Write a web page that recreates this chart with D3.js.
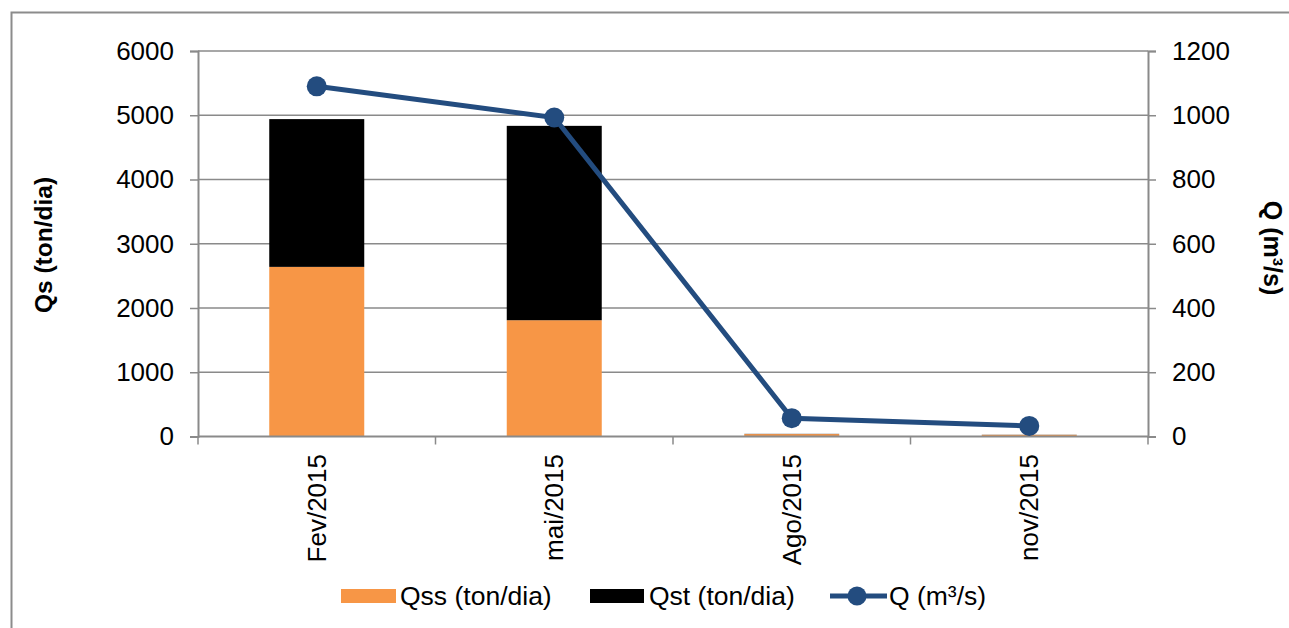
<!DOCTYPE html>
<html>
<head>
<meta charset="utf-8">
<script src="https://cdn.jsdelivr.net/npm/d3@7"></script>
<style>
  body { margin: 0; background: #fff; }
  svg { font-family: "Liberation Sans", Arial, sans-serif; }
</style>
</head>
<body>
<div id="chart-area"></div>
<script>
let width = 1289,
    height = 628;

// data
let months = ["Fev/2015", "mai/2015", "Ago/2015", "nov/2015"];
let qss = [2640, 1810, 38, 26];   // ton/dia
let qst = [2300, 3025, 3, 2];     // ton/dia
let q = [1090, 993, 57, 33];      // m3/s
let leftTicks = [0, 1000, 2000, 3000, 4000, 5000, 6000];
let rightTicks = [0, 200, 400, 600, 800, 1000, 1200];

let orange = "#f79646", navy = "#234c7f", gridColor = "#8a8a8a";

let plot = {left: 198, right: 1148, top: 51, bottom: 436.5};

let svg = d3.select("#chart-area")
    .append("svg")
    .attr("width", width)
    .attr("height", height);

// frame (only top and left edge visible)
svg.append("path")
    .attr("d", "M11.5,628 V12.5 H1289")
    .attr("fill", "none")
    .attr("stroke", "#8c8c8c")
    .attr("stroke-width", 2);

let x = d3.scaleBand()
    .domain(months)
    .range([plot.left, plot.right])
    .paddingInner(0.6)
    .paddingOuter(0.3);

let yL = d3.scaleLinear().domain([0, 6000]).range([plot.bottom, plot.top]);
let yR = d3.scaleLinear().domain([0, 1200]).range([plot.bottom, plot.top]);

// gridlines
svg.append("g")
    .selectAll("line")
    .data(leftTicks.filter(d => d > 0))
    .enter()
    .append("line")
    .attr("x1", plot.left)
    .attr("x2", plot.right)
    .attr("y1", d => yL(d))
    .attr("y2", d => yL(d))
    .attr("stroke", gridColor)
    .attr("stroke-width", 1.5);

// stacked bars
let stack = months.map((m, i) => ({m: m, qss: qss[i], qst: qst[i]}));
let series = d3.stack().keys(["qss", "qst"])(stack);
let colors = {qss: orange, qst: "#000"};

svg.append("g")
    .selectAll("g")
    .data(series)
    .enter()
    .append("g")
    .attr("fill", d => colors[d.key])
    .selectAll("rect")
    .data(d => d)
    .enter()
    .append("rect")
    .attr("x", d => x(d.data.m))
    .attr("width", x.bandwidth())
    .attr("y", d => yL(d[1]))
    .attr("height", d => yL(d[0]) - yL(d[1]));

// axes
let axisL = svg.append("g")
    .attr("transform", "translate(" + plot.left + ",0)")
    .call(d3.axisLeft(yL).tickValues(leftTicks).tickSize(8).tickPadding(16).tickFormat(d3.format("d")));

let axisR = svg.append("g")
    .attr("transform", "translate(" + plot.right + ",0)")
    .call(d3.axisRight(yR).tickValues(rightTicks).tickSize(8).tickPadding(16).tickFormat(d3.format("d")));

[axisL, axisR].forEach(function(a){
    a.select(".domain").attr("stroke", gridColor).attr("stroke-width", 2);
    a.selectAll(".tick line").attr("stroke", gridColor).attr("stroke-width", 1.5);
    a.selectAll(".tick text").attr("fill", "#000").style("font-size", "26px")
        .style("font-family", "'Liberation Sans', Arial, sans-serif");
});

// x axis line + ticks at band edges
svg.append("line")
    .attr("x1", plot.left).attr("x2", plot.right)
    .attr("y1", plot.bottom).attr("y2", plot.bottom)
    .attr("stroke", gridColor).attr("stroke-width", 2);

let step = (plot.right - plot.left) / months.length;
svg.append("g")
    .selectAll("line")
    .data(d3.range(months.length + 1))
    .enter()
    .append("line")
    .attr("x1", d => plot.left + d * step)
    .attr("x2", d => plot.left + d * step)
    .attr("y1", plot.bottom)
    .attr("y2", plot.bottom + 8)
    .attr("stroke", gridColor)
    .attr("stroke-width", 1.5);

svg.append("g")
    .selectAll("text")
    .data(months)
    .enter()
    .append("text")
    .attr("transform", d => "translate(" + (x(d) + x.bandwidth() / 2) + ",454) rotate(-90)")
    .attr("text-anchor", "end")
    .attr("dy", "0.35em")
    .style("font-size", "26px")
    .text(d => d);

// Q line
let line = d3.line()
    .x((d, i) => x(months[i]) + x.bandwidth() / 2)
    .y(d => yR(d));

svg.append("path")
    .datum(q)
    .attr("d", line)
    .attr("fill", "none")
    .attr("stroke", navy)
    .attr("stroke-width", 5);

svg.append("g")
    .selectAll("circle")
    .data(q)
    .enter()
    .append("circle")
    .attr("cx", (d, i) => x(months[i]) + x.bandwidth() / 2)
    .attr("cy", d => yR(d))
    .attr("r", 10)
    .attr("fill", navy);

// axis titles
svg.append("text")
    .attr("transform", "translate(43,245) rotate(-90)")
    .attr("text-anchor", "middle")
    .attr("dy", "0.35em")
    .style("font-size", "24.5px")
    .style("font-weight", "bold")
    .text("Qs (ton/dia)");

svg.append("text")
    .attr("transform", "translate(1273,248) rotate(90)")
    .attr("text-anchor", "middle")
    .attr("dy", "0.35em")
    .style("font-size", "25px")
    .style("font-weight", "bold")
    .text("Q (m³/s)");

// legend
let legend = svg.append("g").attr("class", "legend");
legend.append("rect").attr("x", 341).attr("y", 589).attr("width", 55).attr("height", 14).attr("fill", orange);
legend.append("text").attr("x", 400).attr("y", 596).attr("dy", "0.35em").style("font-size", "26.5px").text("Qss (ton/dia)");
legend.append("rect").attr("x", 590).attr("y", 589).attr("width", 54).attr("height", 14).attr("fill", "#000");
legend.append("text").attr("x", 649).attr("y", 596).attr("dy", "0.35em").style("font-size", "26.5px").text("Qst (ton/dia)");
legend.append("line").attr("x1", 830).attr("x2", 887).attr("y1", 596).attr("y2", 596).attr("stroke", navy).attr("stroke-width", 5);
legend.append("circle").attr("cx", 857).attr("cy", 596).attr("r", 9.5).attr("fill", navy);
legend.append("text").attr("x", 889).attr("y", 596).attr("dy", "0.35em").style("font-size", "26.5px").text("Q (m³/s)");
</script>
</body>
</html>
